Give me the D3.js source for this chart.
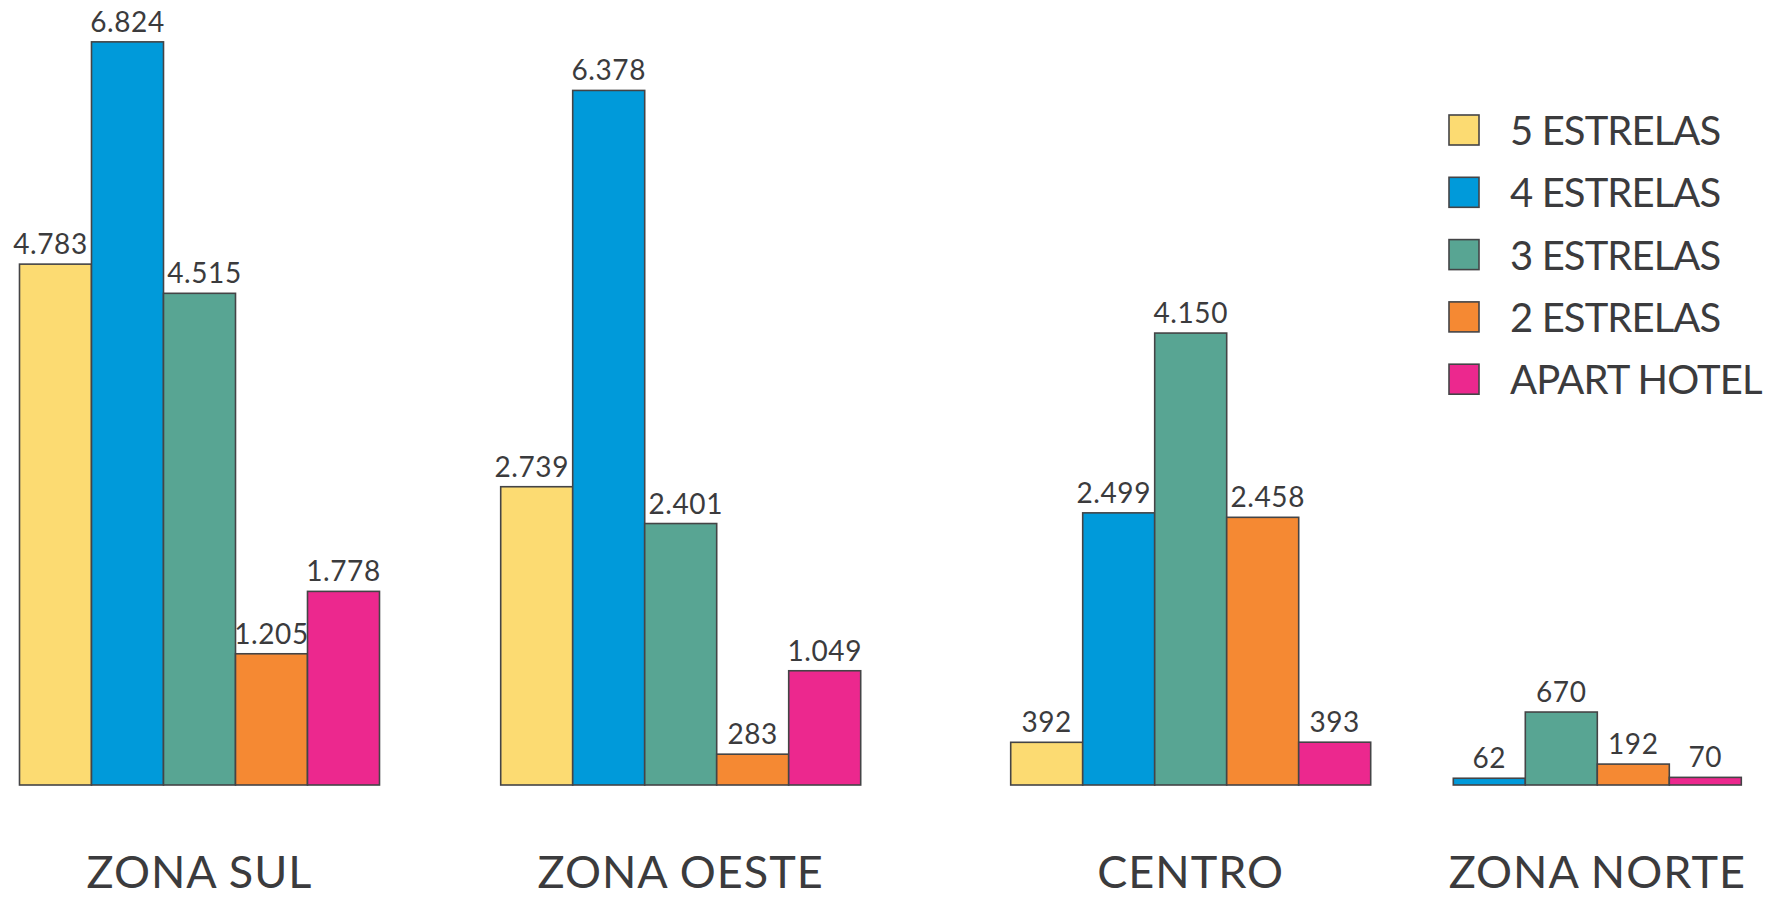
<!DOCTYPE html>
<html>
<head>
<meta charset="utf-8">
<script src="https://cdn.jsdelivr.net/npm/d3@7"></script>
<style>
  html, body { margin: 0; padding: 0; background: #ffffff; }
  svg { display: block; }
  text { font-family: "Lato", "Open Sans", sans-serif; fill: #3b3b3d; }
</style>
</head>
<body>
<svg id="chart" width="1770" height="898"></svg>
<script>
// ---- data ----
const zones = ["ZONA SUL", "ZONA OESTE", "CENTRO", "ZONA NORTE"];
const series = ["5 ESTRELAS", "4 ESTRELAS", "3 ESTRELAS", "2 ESTRELAS", "APART HOTEL"];
const zonaSul   = [4783, 6824, 4515, 1205, 1778];
const zonaOeste = [2739, 6378, 2401, 283, 1049];
const centro    = [392, 2499, 4150, 2458, 393];
const zonaNorte = [null, 62, 670, 192, 70];
const valuesByZone = [zonaSul, zonaOeste, centro, zonaNorte];
const colors = ["#FCDB72", "#009ADA", "#58A593", "#F58933", "#EC288E"];

// ---- layout ----
const W = 1770, H = 898;
const baseline = 785;
const barW = 72;
const groupLeft = [19.5, 500.7, 1010.7, 1381.3];  // layout: left edge of each zone group (slot of first series)

const svg = d3.select("#chart");

const y = d3.scaleLinear().domain([0, 7000]).range([baseline, baseline - 7000 * 0.1089]);
const xGroup = d3.scaleOrdinal().domain(zones).range(groupLeft);
const xInner = d3.scaleBand().domain(series).range([0, barW * series.length]).padding(0);
const fmt = v => d3.format(",")(v).replace(/,/g, ".");

const rows = [];
zones.forEach((z, zi) => {
  const vals = valuesByZone[zi];
  series.forEach((s, si) => {
    const v = vals[si];
    if (v != null) {
      const left = si > 0 ? vals[si - 1] : null;
      const right = si < series.length - 1 ? vals[si + 1] : null;
      const lt = left != null && left > v, rt = right != null && right > v;
      // nudge wide labels away from a taller neighbour
      const nudge = (lt && !rt) ? 5 : (rt && !lt) ? -5 : 0;
      rows.push({ zone: z, series: s, value: v, color: colors[si], nudge });
    }
  });
});

const g = svg.append("g");

g.selectAll("rect.bar").data(rows).join("rect")
  .attr("class", "bar")
  .attr("x", d => xGroup(d.zone) + xInner(d.series))
  .attr("y", d => y(d.value))
  .attr("width", xInner.bandwidth())
  .attr("height", d => y(0) - y(d.value))
  .attr("fill", d => d.color)
  .attr("stroke", "#444446")
  .attr("stroke-width", 1.6);

g.selectAll("text.val").data(rows).join("text")
  .attr("class", "val")
  .attr("x", d => xGroup(d.zone) + xInner(d.series) + xInner.bandwidth() / 2 + (d.value >= 1000 ? d.nudge : 0))
  .attr("y", d => y(d.value) - 10)
  .attr("text-anchor", "middle")
  .attr("font-size", 28)
  .attr("letter-spacing", 0.6)
  .text(d => fmt(d.value));

// zone labels centred under the bars each group actually has
g.selectAll("text.zone").data(zones).join("text")
  .attr("class", "zone")
  .attr("x", (z, zi) => {
    const present = series.filter((s, si) => valuesByZone[zi][si] != null);
    const x0 = xGroup(z) + xInner(present[0]);
    const x1 = xGroup(z) + xInner(present[present.length - 1]) + xInner.bandwidth();
    return (x0 + x1) / 2;
  })
  .attr("y", 888)
  .attr("text-anchor", "middle")
  .attr("font-size", 45)
  .attr("letter-spacing", 1)
  .text(d => d);

// legend
const legend = svg.append("g").attr("transform", "translate(1449,115)");
const ly = d3.scaleBand().domain(series).range([0, 62.3 * series.length]);
const li = legend.selectAll("g").data(series).join("g")
  .attr("transform", d => `translate(0,${ly(d)})`);
li.append("rect")
  .attr("width", 30).attr("height", 30)
  .attr("fill", (d, i) => colors[i])
  .attr("stroke", "#444446").attr("stroke-width", 1.6);
li.append("text")
  .attr("x", 61).attr("y", 30)
  .attr("font-size", 40)
  .attr("letter-spacing", -0.9)
  .text(d => d);
</script>
</body>
</html>
